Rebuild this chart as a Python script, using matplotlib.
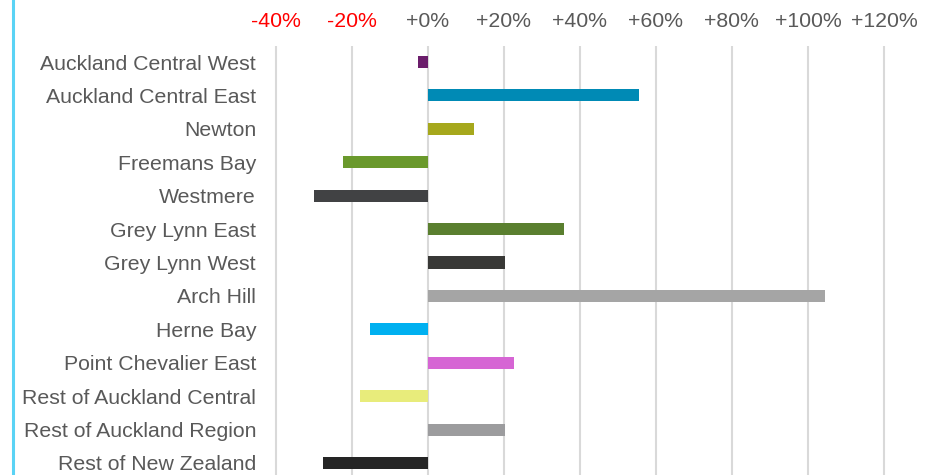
import matplotlib.pyplot as plt
from matplotlib.lines import Line2D

# Change by area (%)
areas = ["Auckland Central West", "Auckland Central East", "Newton", "Freemans Bay",
         "Westmere", "Grey Lynn East", "Grey Lynn West", "Arch Hill", "Herne Bay",
         "Point Chevalier East", "Rest of Auckland Central", "Rest of Auckland Region",
         "Rest of New Zealand"]
change = [-2.5, 55.5, 12.2, -22.2, -29.8, 35.8, 20.3, 104.6, -15.1, 22.7, -17.7, 20.3, -27.4]
colors = ["#6b1d6b", "#008ab5", "#a6a81c", "#6a992c", "#414244", "#5a7f2f", "#383836",
          "#a5a5a5", "#00b0f0", "#d665d4", "#e8ec7b", "#9c9c9e", "#252525"]
ticks = [-40, -20, 0, 20, 40, 60, 80, 100, 120]

plt.rcParams['font.family'] = ['Liberation Sans', 'DejaVu Sans']

fig = plt.figure(figsize=(9.39, 4.75), dpi=100)
ax = fig.add_axes([0.2772, 0.0, 0.6804, 0.9032])

ypos = list(range(len(areas)))
ax.barh(ypos, change, height=0.36, color=colors, zorder=3)

ax.set_xlim(-44, 124)
ax.set_ylim(12.36, -0.48)

ax.xaxis.tick_top()
ax.set_xticks(ticks)
ax.set_xticklabels([("+" if t >= 0 else "") + f"{t}%" for t in ticks])
ax.tick_params(axis='x', length=0, pad=11, labelsize=15.3)
for tk, t in zip(ax.xaxis.get_major_ticks(), ticks):
    tk.label2.set_color("#ff0000" if t < 0 else "#595959")
ax.set_yticks(ypos)
ax.set_yticklabels(areas)
ax.tick_params(axis='y', length=0, pad=3, labelsize=15.3, labelcolor="#595959")

ax.grid(axis='x', color="#d9d9d9", linewidth=1.5, zorder=0)
for s in ax.spines.values():
    s.set_visible(False)

# light blue rule down the left edge
fig.add_artist(Line2D([12.5 / 939, 12.5 / 939], [0, 1], color="#5ad3f5", linewidth=2.2))

fig.savefig("out.png", dpi=100)
